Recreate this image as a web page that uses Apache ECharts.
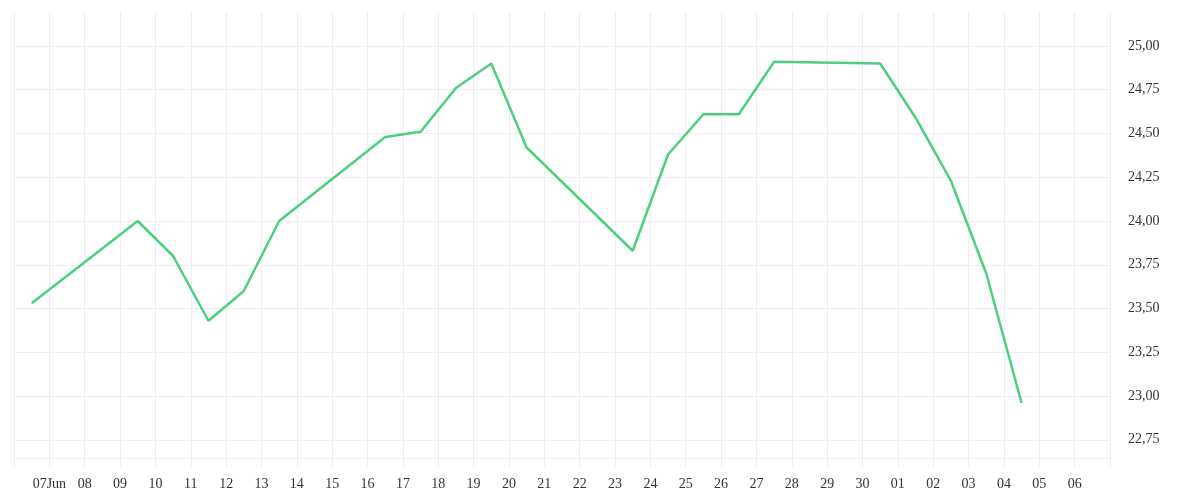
<!DOCTYPE html>
<html>
<head>
<meta charset="utf-8">
<script src="https://cdn.jsdelivr.net/npm/echarts@6/dist/echarts.min.js"></script>
<style>
  html, body { margin: 0; padding: 0; background: #fff; }
  #chart { width: 1200px; height: 500px; }
</style>
</head>
<body>
<div id="chart"></div>
<script>
// 交易日（2024），每个点画在其日期网格线左侧半天处
const dates = [
  '2024-06-07', '2024-06-10', '2024-06-11', '2024-06-12', '2024-06-13', '2024-06-14',
  '2024-06-17', '2024-06-18', '2024-06-19', '2024-06-20', '2024-06-21',
  '2024-06-24', '2024-06-25', '2024-06-26', '2024-06-27', '2024-06-28',
  '2024-07-01', '2024-07-02', '2024-07-03', '2024-07-04', '2024-07-05'
]
const values = [
  23.53, 24.00, 23.80, 23.43, 23.60, 24.00,
  24.48, 24.51, 24.76, 24.90, 24.42,
  23.83, 24.38, 24.61, 24.61, 24.91,
  24.90, 24.59, 24.23, 23.70, 22.96
]
// x 轴刻度文字，从 06 Jun (0) 到 07 Jul (31)
const tickLabels = [
  '', '07Jun', '08', '09', '10', '11', '12', '13', '14', '15', '16', '17', '18', '19',
  '20', '21', '22', '23', '24', '25', '26', '27', '28', '29', '30',
  '01', '02', '03', '04', '05', '06', ''
]
const startDay = Date.UTC(2024, 5, 6)
const DAY = 86400000

const fontFamily = '"Liberation Serif", serif'
const gridColor = '#eeeeee'

// 日期 -> 相对天数
function dayIndex (d) {
  const p = d.split('-')
  return (Date.UTC(+p[0], +p[1] - 1, +p[2]) - startDay) / DAY
}

const lineData = dates.map((d, i) => [dayIndex(d) - 0.5, values[i]])

const myChart = echarts.init(document.getElementById('chart'))
myChart.setOption({
  animation: false,
  backgroundColor: '#ffffff',
  grid: { left: 14, right: 90, top: 12, bottom: 42, containLabel: false },
  xAxis: {
    type: 'value',
    min: 0,
    max: tickLabels.length - 1,
    interval: 1,
    axisLine: { show: true, lineStyle: { color: gridColor, width: 1 } },
    axisTick: { show: true, length: 9, lineStyle: { color: gridColor } },
    splitLine: { show: true, lineStyle: { color: gridColor, width: 1 } },
    axisLabel: {
      margin: 19,
      color: '#333',
      fontFamily: fontFamily,
      fontSize: 14,
      formatter: v => tickLabels[Math.round(v)] || ''
    }
  },
  yAxis: {
    type: 'value',
    position: 'right',
    min: 22.646,
    max: 25.194,
    minInterval: 0.25,
    maxInterval: 0.25,
    axisLine: { show: false },
    axisTick: { show: false },
    splitLine: { show: true, showMaxLine: false, lineStyle: { color: gridColor, width: 1 } },
    axisLabel: {
      margin: 18,
      padding: [4, 0, 0, 0],
      color: '#333',
      fontFamily: fontFamily,
      fontSize: 14,
      showMinLabel: false,
      showMaxLabel: false,
      formatter: v => v.toFixed(2).replace('.', ',')
    }
  },
  series: [{
    type: 'line',
    data: lineData,
    showSymbol: false,
    symbol: 'none',
    lineStyle: { color: '#4cd07d', width: 2.5 },
    itemStyle: { color: '#4cd07d' }
  }]
})
</script>
</body>
</html>
